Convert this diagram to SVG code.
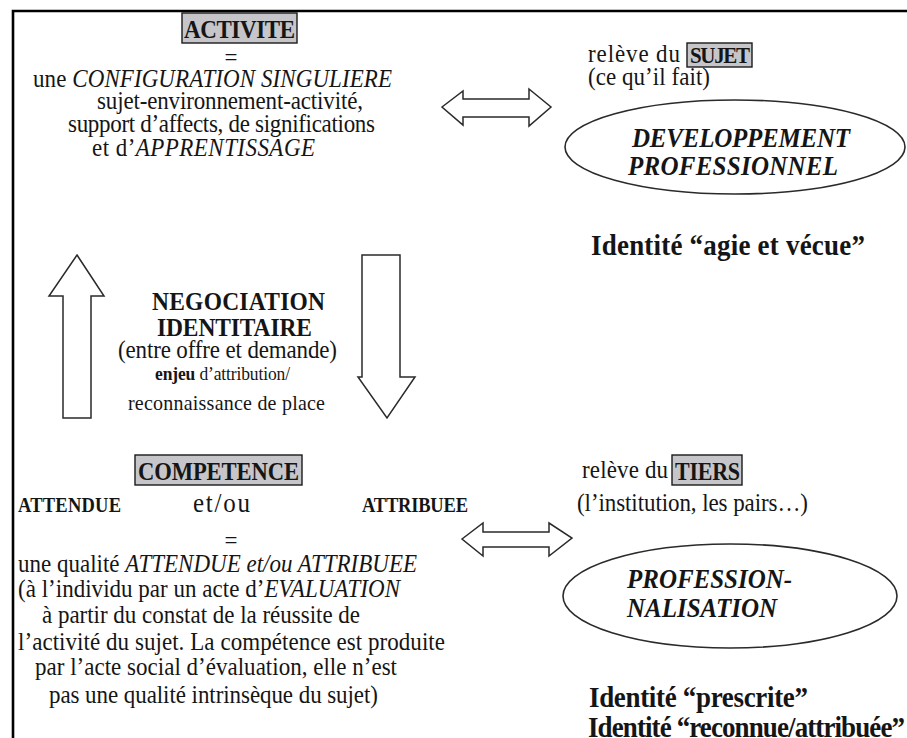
<svg xmlns="http://www.w3.org/2000/svg" width="907" height="738" viewBox="0 0 907 738">
  <style>
    text { font-family: "Liberation Serif", "Times New Roman", serif; fill: #151515; }
    .b { font-weight: bold; }
    .i { font-style: italic; }
    .bi { font-weight: bold; font-style: italic; }
    .hl { fill: #c6c6ca; stroke: #1a1a1a; stroke-width: 1.4; }
    .arrow { fill: #ffffff; stroke: #2a2a2a; stroke-width: 1.5; stroke-linejoin: miter; }
    .oval { fill: #ffffff; stroke: #2a2a2a; stroke-width: 1.6; }
  </style>

  <rect width="907" height="738" fill="#ffffff"/>
  <!-- page frame (left and top edges) -->
  <path d="M13,738 V11 H907" fill="none" stroke="#000000" stroke-width="2.6"/>

  <!-- ACTIVITE definition -->
  <g id="activite">
    <rect class="hl" x="182" y="13" width="115" height="30"/>
    <text class="b" font-size="23" transform="translate(184 38) scale(1 1.1)" textLength="111">ACTIVITE</text>
    <text font-size="23" text-anchor="middle" transform="translate(231 66) scale(1 1.1)">=</text>
    <text font-size="23" transform="translate(33 87) scale(1 1.1)" textLength="359">une <tspan class="i">CONFIGURATION SINGULIERE</tspan></text>
    <text font-size="23" transform="translate(97 109) scale(1 1.1)" textLength="266">sujet-environnement-activité,</text>
    <text font-size="23" transform="translate(68 132) scale(1 1.1)" textLength="307">support d’affects, de significations</text>
    <text font-size="23" transform="translate(92 156) scale(1 1.1)" textLength="223">et d’<tspan class="i">APPRENTISSAGE</tspan></text>
  </g>

  <!-- relève du SUJET / développement professionnel -->
  <g id="sujet">
    <text font-size="23" transform="translate(588 62) scale(1 1.1)" textLength="92">relève du</text>
    <rect class="hl" x="687" y="43" width="65" height="24"/>
    <text class="b" font-size="21" transform="translate(690 63) scale(1 1.1)" textLength="60">SUJET</text>
    <text font-size="23" transform="translate(588 85) scale(1 1.1)" textLength="122">(ce qu’il fait)</text>
  </g>

  <g id="developpement">
    <ellipse class="oval" cx="735" cy="147" rx="170" ry="47"/>
    <text class="bi" font-size="25" transform="translate(632 147) scale(1 1.1)" textLength="218">DEVELOPPEMENT</text>
    <text class="bi" font-size="25" transform="translate(628 175) scale(1 1.1)" textLength="210">PROFESSIONNEL</text>
  </g>

  <g id="identite-vecue">
    <text class="b" font-size="27" transform="translate(591 255) scale(1 1.1)" textLength="274">Identité “agie et vécue”</text>
  </g>

  <!-- negotiation between the two poles -->
  <g id="negociation">
    <text class="b" font-size="23.5" transform="translate(152 310) scale(1 1.1)" textLength="173">NEGOCIATION</text>
    <text class="b" font-size="23.5" transform="translate(157 336) scale(1 1.1)" textLength="155">IDENTITAIRE</text>
    <text font-size="23" transform="translate(118 358) scale(1 1.1)" textLength="219">(entre offre et demande)</text>
    <text font-size="17.5" transform="translate(155 380) scale(1 1.1)" textLength="135"><tspan class="b">enjeu</tspan> d’attribution/</text>
    <text font-size="20" transform="translate(128 410) scale(1 1.1)" textLength="197">reconnaissance de place</text>
  </g>

  <!-- COMPETENCE definition -->
  <g id="competence">
    <rect class="hl" x="135" y="455" width="167" height="30"/>
    <text class="b" font-size="22.6" transform="translate(138 480) scale(1 1.1)" textLength="161">COMPETENCE</text>
    <text class="b" font-size="18.5" transform="translate(18 512) scale(1 1.1)" textLength="103">ATTENDUE</text>
    <text font-size="25" transform="translate(193 512) scale(1 1.1)" textLength="57">et/ou</text>
    <text class="b" font-size="18.5" transform="translate(362 512) scale(1 1.1)" textLength="106">ATTRIBUEE</text>
    <text font-size="23" text-anchor="middle" transform="translate(231 549) scale(1 1.1)">=</text>
    <text font-size="23" transform="translate(18 572) scale(1 1.1)" textLength="399">une qualité <tspan class="i">ATTENDUE et/ou ATTRIBUEE</tspan></text>
    <text font-size="23" transform="translate(18 597) scale(1 1.1)" textLength="382">(à l’individu par un acte d’<tspan class="i">EVALUATION</tspan></text>
    <text font-size="23" transform="translate(42 623) scale(1 1.1)" textLength="318">à partir du constat de la réussite de</text>
    <text font-size="23" transform="translate(18 650) scale(1 1.1)" textLength="427">l’activité du sujet. La compétence est produite</text>
    <text font-size="23" transform="translate(35 675) scale(1 1.1)" textLength="362">par l’acte social d’évaluation, elle n’est</text>
    <text font-size="23" transform="translate(49 703) scale(1 1.1)" textLength="329">pas une qualité intrinsèque du sujet)</text>
  </g>

  <!-- relève du TIERS / professionnalisation -->
  <g id="tiers">
    <text font-size="23" transform="translate(582 478) scale(1 1.1)" textLength="86">relève du</text>
    <rect class="hl" x="672" y="455" width="70" height="30"/>
    <text class="b" font-size="22" transform="translate(675 480) scale(1 1.1)" textLength="65">TIERS</text>
    <text font-size="23" transform="translate(577 511) scale(1 1.1)" textLength="231">(l’institution, les pairs…)</text>
  </g>

  <g id="professionnalisation">
    <ellipse class="oval" cx="730" cy="596" rx="167" ry="52"/>
    <text class="bi" font-size="25" transform="translate(627 588) scale(1 1.1)" textLength="165">PROFESSION-</text>
    <text class="bi" font-size="25" transform="translate(627 617) scale(1 1.1)" textLength="150">NALISATION</text>
  </g>

  <g id="identite-prescrite">
    <text class="b" font-size="27" transform="translate(589 707) scale(1 1.1)" textLength="219">Identité “prescrite”</text>
    <text class="b" font-size="27" transform="translate(588 737) scale(1 1.1)" textLength="317">Identité “reconnue/attribuée”</text>
  </g>

  <!-- block arrows -->
  <g id="connectors">
    <polygon class="arrow" points="442,107 463,91 463,99 529,99 529,89 551,107 529,126 529,117 463,117 463,125"/>
    <polygon class="arrow" points="77,255 104,296 91,296 91,418 63,418 63,296 49,296"/>
    <polygon class="arrow" points="362,255 400,255 400,377 415,377 387,418 358,377 362,377"/>
    <polygon class="arrow" points="462,539 483,523 483,532 549,532 549,523 572,538 549,556 549,547 483,547 483,556"/>
  </g>
</svg>
